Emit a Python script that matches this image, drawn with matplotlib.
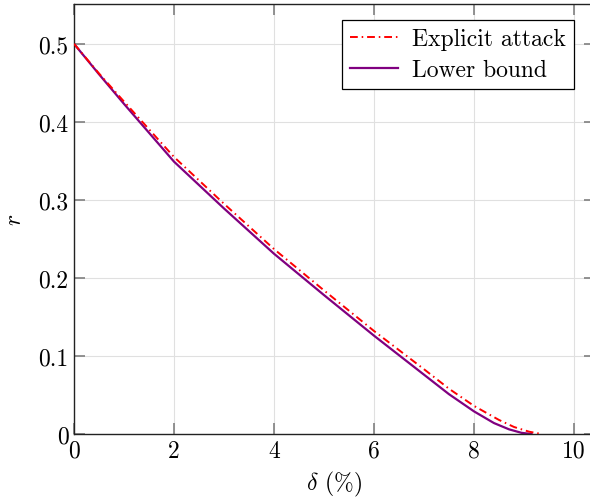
import matplotlib
matplotlib.use("Agg")
import matplotlib.pyplot as plt

plt.rcParams["font.family"] = "serif"
plt.rcParams["font.serif"] = ["cmr10"]
plt.rcParams["mathtext.fontset"] = "cm"
plt.rcParams["axes.formatter.use_mathtext"] = True

# values
delta_attack = [0, 0.5, 1, 2, 3, 4, 5, 6, 7, 7.5, 8, 8.5, 8.8, 9.1, 9.35]
r_attack = [0.5, 0.462, 0.426, 0.355, 0.295, 0.237, 0.184, 0.132, 0.083, 0.058, 0.036, 0.018, 0.009, 0.003, 0.0]

delta_bound = [0, 0.5, 1, 2, 3, 4, 5, 6, 7, 7.5, 8, 8.4, 8.7, 8.95, 9.15]
r_bound = [0.5, 0.461, 0.423, 0.349, 0.289, 0.231, 0.178, 0.126, 0.076, 0.051, 0.029, 0.014, 0.006, 0.0015, 0.0]

xticks = [0, 2, 4, 6, 8, 10]
yticks = [0, 0.1, 0.2, 0.3, 0.4, 0.5]
ytick_labels = ["0", "0.1", "0.2", "0.3", "0.4", "0.5"]

fig = plt.figure(figsize=(5.9, 5.02), dpi=100)
ax = fig.add_axes([74 / 590, 67 / 502, 521 / 590, 430 / 502])

ax.plot(delta_attack, r_attack, color="#ff0000", lw=1.4,
        linestyle=(0, (4, 2, 0.8, 2)), label="Explicit attack", zorder=3)
ax.plot(delta_bound, r_bound, color="#800080", lw=1.6,
        label="Lower bound", zorder=2)

ax.set_xlim(0, 10.42)
ax.set_ylim(0, 0.551)
ax.set_xticks(xticks)
ax.set_xticklabels([str(t) for t in xticks])
ax.set_yticks(yticks)
ax.set_yticklabels(ytick_labels)

ax.grid(True, color="#e0e0e0", lw=0.8)
ax.set_axisbelow(True)
ax.tick_params(direction="in", length=8, width=1.2, color="#808080",
               top=True, right=True, labelsize=17, pad=4)
for s in ax.spines.values():
    s.set_color("#222222")
    s.set_linewidth(1.0)
ax.spines["right"].set_visible(False)

ax.set_xlabel(r"$\delta$ (%)", fontsize=17, labelpad=5)
ax.set_ylabel(r"$r$", fontsize=17, labelpad=9)

leg = ax.legend(loc="upper right", fontsize=17, fancybox=False,
                edgecolor="black", framealpha=1, borderpad=0.35,
                handlelength=2.0, labelspacing=0.35, handletextpad=0.6,
                bbox_to_anchor=(0.982, 0.99))
leg.get_frame().set_linewidth(0.9)

fig.savefig("out.png", dpi=100)
